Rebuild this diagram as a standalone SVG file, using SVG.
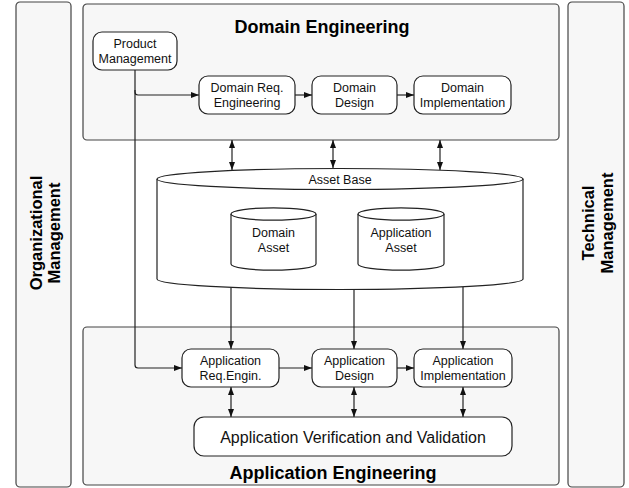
<svg xmlns="http://www.w3.org/2000/svg" width="629" height="488" viewBox="0 0 629 488">
<style>
.panel{fill:#f7f7f7;stroke:#444;stroke-width:1.2}
.box{fill:#fff;stroke:#222;stroke-width:1.2}
.cyl{fill:#fff;stroke:#222;stroke-width:1.2}
.t{font-family:"Liberation Sans",Arial,sans-serif;font-size:12.5px;fill:#111;text-anchor:middle}
.title{font-family:"Liberation Sans",Arial,sans-serif;font-size:18px;font-weight:bold;fill:#000;text-anchor:middle}
.side{font-family:"Liberation Sans",Arial,sans-serif;font-size:16.5px;font-weight:bold;fill:#000;text-anchor:middle}
.vv{font-family:"Liberation Sans",Arial,sans-serif;font-size:16px;fill:#111;text-anchor:middle}
.c{fill:none;stroke:#222;stroke-width:1.2}
</style>
<defs>
<marker id="ah" viewBox="0 0 8 6" refX="8" refY="3" markerWidth="8" markerHeight="6" markerUnits="userSpaceOnUse" orient="auto-start-reverse">
<path d="M0,0 L8,3 L0,6 z" fill="#111"/>
</marker>
</defs>
<g id="org-management">
<rect class="panel" x="16" y="2" width="55" height="485" rx="4"/>
<text class="side" x="41.5" y="233" transform="rotate(-90 41.5 233)">Organizational</text>
<text class="side" x="60" y="233" transform="rotate(-90 60 233)">Management</text>
</g>
<g id="tech-management">
<rect class="panel" x="568" y="2" width="56" height="485" rx="4"/>
<text class="side" x="594" y="223" transform="rotate(-90 594 223)">Technical</text>
<text class="side" x="613" y="223" transform="rotate(-90 613 223)">Management</text>
</g>
<g id="domain-engineering">
<rect class="panel" x="83" y="4" width="476" height="136" rx="4"/>
<text class="title" x="322" y="33">Domain Engineering</text>
</g>
<g id="application-engineering">
<rect class="panel" x="83" y="327" width="476" height="158" rx="4"/>
<text class="title" x="333" y="479">Application Engineering</text>
</g>
<g id="connectors">
<path class="c" d="M135,70 V92 Q135,95 138,95 H199" marker-end="url(#ah)"/>
<path class="c" d="M135,90 V365 Q135,368 138,368 H182" marker-end="url(#ah)"/>
<path class="c" d="M295,95 H312" marker-end="url(#ah)"/>
<path class="c" d="M397,95 H414" marker-end="url(#ah)"/>
<path class="c" d="M232,140 V170" marker-start="url(#ah)" marker-end="url(#ah)"/>
<path class="c" d="M333,140 V168" marker-start="url(#ah)" marker-end="url(#ah)"/>
<path class="c" d="M440,140 V170" marker-start="url(#ah)" marker-end="url(#ah)"/>
<path class="c" d="M231,287 V349" marker-end="url(#ah)"/>
<path class="c" d="M354,289 V349" marker-end="url(#ah)"/>
<path class="c" d="M463,287 V349" marker-end="url(#ah)"/>
<path class="c" d="M279,368 H312" marker-end="url(#ah)"/>
<path class="c" d="M397,368 H414" marker-end="url(#ah)"/>
<path class="c" d="M231,387 V417" marker-start="url(#ah)" marker-end="url(#ah)"/>
<path class="c" d="M354,387 V417" marker-start="url(#ah)" marker-end="url(#ah)"/>
<path class="c" d="M463,387 V417" marker-start="url(#ah)" marker-end="url(#ah)"/>
</g>
<g id="product-management">
<rect class="box" x="93" y="32" width="84" height="38" rx="9"/>
<text class="t" x="135" y="48">Product</text>
<text class="t" x="135" y="63">Management</text>
</g>
<g id="domain-req-engineering">
<rect class="box" x="199" y="76" width="96" height="38" rx="9"/>
<text class="t" x="247" y="92">Domain Req.</text>
<text class="t" x="247" y="107">Engineering</text>
</g>
<g id="domain-design">
<rect class="box" x="312" y="76" width="85" height="38" rx="9"/>
<text class="t" x="354.5" y="92">Domain</text>
<text class="t" x="354.5" y="107">Design</text>
</g>
<g id="domain-implementation">
<rect class="box" x="414" y="76" width="97" height="38" rx="9"/>
<text class="t" x="462.5" y="92">Domain</text>
<text class="t" x="462.5" y="107">Implementation</text>
</g>
<g id="asset-base">
<path class="cyl" d="M157,179 A183,10.5 0 0 1 523,179 V279 A183,10.5 0 0 1 157,279 Z"/>
<path class="cyl" d="M157,179 A183,10.5 0 0 0 523,179"/>
<text class="t" x="340" y="183.5">Asset Base</text>
</g>
<g id="domain-asset">
<path class="cyl" d="M231,214 A42.5,6.2 0 0 1 316,214 V264 A42.5,6.2 0 0 1 231,264 Z"/>
<path class="cyl" d="M231,214 A42.5,6.2 0 0 0 316,214"/>
<text class="t" x="273.5" y="237">Domain</text>
<text class="t" x="273.5" y="252">Asset</text>
</g>
<g id="application-asset">
<path class="cyl" d="M358,214 A43,6.2 0 0 1 444,214 V264 A43,6.2 0 0 1 358,264 Z"/>
<path class="cyl" d="M358,214 A43,6.2 0 0 0 444,214"/>
<text class="t" x="401" y="237">Application</text>
<text class="t" x="401" y="252">Asset</text>
</g>
<g id="app-req-engin">
<rect class="box" x="182" y="349" width="97" height="38" rx="9"/>
<text class="t" x="230.5" y="365">Application</text>
<text class="t" x="230.5" y="380">Req.Engin.</text>
</g>
<g id="app-design">
<rect class="box" x="312" y="349" width="85" height="38" rx="9"/>
<text class="t" x="354.5" y="365">Application</text>
<text class="t" x="354.5" y="380">Design</text>
</g>
<g id="app-implementation">
<rect class="box" x="414" y="349" width="98" height="38" rx="9"/>
<text class="t" x="463" y="365">Application</text>
<text class="t" x="463" y="380">Implementation</text>
</g>
<g id="app-verification-validation">
<rect class="box" x="194" y="417" width="318" height="39" rx="10"/>
<text class="vv" x="353" y="442.5">Application Verification and Validation</text>
</g>
</svg>
